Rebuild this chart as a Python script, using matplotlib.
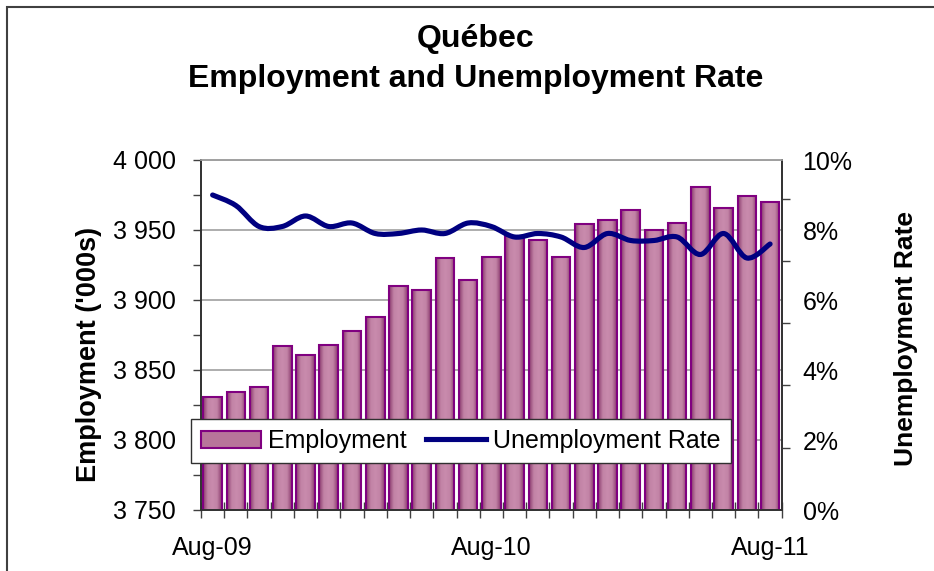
import numpy as np
import matplotlib
matplotlib.use('Agg')
import matplotlib.pyplot as plt
from matplotlib.path import Path
from matplotlib.patches import PathPatch, Patch, Rectangle
from matplotlib.lines import Line2D
from matplotlib.colors import LinearSegmentedColormap
from matplotlib.ticker import FuncFormatter

plt.rcParams['font.family'] = ['Liberation Sans', 'DejaVu Sans']

# monthly values, Aug-09 .. Aug-11
months = ['Aug-09', 'Sep-09', 'Oct-09', 'Nov-09', 'Dec-09', 'Jan-10', 'Feb-10',
          'Mar-10', 'Apr-10', 'May-10', 'Jun-10', 'Jul-10', 'Aug-10', 'Sep-10',
          'Oct-10', 'Nov-10', 'Dec-10', 'Jan-11', 'Feb-11', 'Mar-11', 'Apr-11',
          'May-11', 'Jun-11', 'Jul-11', 'Aug-11']
employment = [3831, 3834, 3838, 3867, 3861, 3868, 3878, 3888, 3910, 3907,
              3930, 3914, 3931, 3946, 3943, 3931, 3954, 3957, 3964, 3950,
              3955, 3981, 3966, 3974, 3970]
unemp_rate = [9.0, 8.7, 8.1, 8.1, 8.4, 8.1, 8.2, 7.9, 7.9, 8.0, 7.9, 8.2, 8.1,
              7.8, 7.9, 7.8, 7.5, 7.9, 7.7, 7.7, 7.8, 7.3, 7.9, 7.2, 7.6]
shown_labels = ['Aug-09', 'Aug-10', 'Aug-11']

W, H = 934, 571
fig = plt.figure(figsize=(W / 100, H / 100), dpi=100)

def fx(px):
    return px / W

def fy(py):
    return 1 - py / H

ax = fig.add_axes([fx(201), fy(510), fx(781.7) - fx(201), fy(160) - fy(510)])
ax2 = ax.twinx()

x = np.arange(len(months))
ymin, ymax = 3750, 4000

# bars: outline + gradient fill clipped to each bar
bars = ax.bar(x, employment, width=0.8, facecolor='none', edgecolor='#800080',
              linewidth=1.5, zorder=3)
grad_cmap = LinearSegmentedColormap.from_list(
    'emp', ['#8A3A6C', '#C283A6', '#C98BAD', '#C283A6', '#8A3A6C'])
grad = np.linspace(0, 1, 64).reshape(1, -1)
for b in bars:
    x0, w = b.get_x(), b.get_width()
    im = ax.imshow(grad, cmap=grad_cmap, aspect='auto', zorder=2,
                   extent=[x0, x0 + w, ymin, b.get_height()], interpolation='bilinear')
    clip = Rectangle((x0, ymin), w, b.get_height() - ymin, transform=ax.transData)
    im.set_clip_path(clip)

ax.set_xlim(-0.5, len(months) - 0.5)
ax.set_ylim(ymin, ymax)

# smoothed unemployment line (Catmull-Rom as cubic Bezier, like Excel's smoothing)
pts = np.column_stack([x, unemp_rate]).astype(float)
ext = np.vstack([pts[0], pts, pts[-1]])
verts = [tuple(pts[0])]
codes = [Path.MOVETO]
for i in range(len(pts) - 1):
    p0, p1, p2, p3 = ext[i], ext[i + 1], ext[i + 2], ext[i + 3]
    c1 = p1 + (p2 - p0) / 6
    c2 = p2 - (p3 - p1) / 6
    verts += [tuple(c1), tuple(c2), tuple(p2)]
    codes += [Path.CURVE4] * 3
ax2.add_patch(PathPatch(Path(verts, codes), facecolor='none', edgecolor='#000080',
                        linewidth=3.7, capstyle='round', joinstyle='round', zorder=4))
ax2.set_ylim(0, 10)

# left axis
ax.set_yticks(np.arange(3750, 4001, 50))
ax.set_yticks(np.arange(3775, 4000, 50), minor=True)
ax.yaxis.set_major_formatter(FuncFormatter(lambda v, p: f'{int(v):,}'.replace(',', ' ')))
ax.tick_params(axis='y', which='both', direction='out', length=6, width=1,
               color='#404040', labelsize=18, pad=12)
ax.grid(axis='y', color='#A0A0A0', linewidth=1.2, zorder=0)
ax.set_axisbelow(True)

# category axis: tick marks on boundaries, labels under chosen months
ax.set_xticks(np.arange(-0.5, len(months), 1.0))
ax.set_xticklabels([])
ax.set_xticks([months.index(m) for m in shown_labels], minor=True)
ax.set_xticklabels(shown_labels, minor=True)
ax.tick_params(axis='x', which='major', direction='inout', length=11, width=1,
               color='#404040')
ax.tick_params(axis='x', which='minor', length=0, labelsize=18, pad=19)

# right axis
ax2.set_yticks(np.arange(0, 11, 2))
ax2.yaxis.set_major_formatter(FuncFormatter(lambda v, p: f'{int(v)}%'))
ax2.set_yticks([0, 1.78, 3.56, 5.34, 7.12, 8.9], minor=True)
ax2.tick_params(axis='y', which='major', length=0, labelsize=18, pad=15)
ax2.tick_params(axis='y', which='minor', direction='out', length=6, width=1,
                color='#404040')

for a in (ax, ax2):
    for s in ('left', 'right', 'bottom'):
        a.spines[s].set_color('#303030')
        a.spines[s].set_linewidth(1.2)
    a.spines['top'].set_color('#A0A0A0')
    a.spines['top'].set_linewidth(1.2)

# titles and axis titles
fig.text(fx(476), fy(47), 'Québec', ha='center', va='baseline',
         fontsize=23, fontweight='bold')
fig.text(fx(476), fy(87), 'Employment and Unemployment Rate', ha='center',
         va='baseline', fontsize=23, fontweight='bold')
fig.text(fx(89), fy(354), "Employment ('000s)", rotation=90, ha='center',
         va='center', fontsize=19.5, fontweight='bold')
fig.text(fx(906), fy(339), 'Unemployment Rate', rotation=90, ha='center',
         va='center', fontsize=19, fontweight='bold')

# legend
handles = [Patch(facecolor='#B8759A', edgecolor='#800080', linewidth=1.5,
                 label='Employment'),
           Line2D([], [], color='#000080', linewidth=3.7, label='Unemployment Rate')]
leg = ax2.legend(handles=handles, ncol=2, loc='upper left',
                 bbox_to_anchor=((191 - 201) / 580.7, (510 - 419) / 350),
                 borderaxespad=0, frameon=True, fancybox=False, framealpha=1,
                 fontsize=18, handlelength=2.4, handletextpad=0.3,
                 columnspacing=0.75, borderpad=0.4)
leg.get_frame().set_edgecolor('#303030')
leg.get_frame().set_linewidth(1.0)
leg.set_zorder(10)

# outer chart frame (only left and top edges are inside the picture)
fig.patches.append(Rectangle((fx(6.7), -0.2), 1.2, fy(6.7) + 0.2,
                             transform=fig.transFigure, fill=False,
                             edgecolor='#404040', linewidth=1.5))

fig.savefig('out.png', dpi=100)
